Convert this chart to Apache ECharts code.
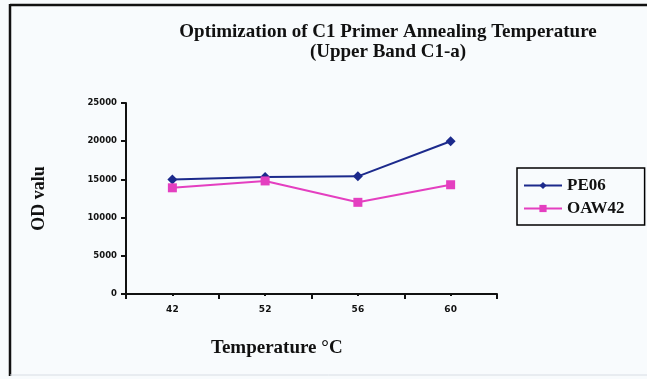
<!DOCTYPE html>
<html><head><meta charset="utf-8">
<script src="https://cdn.jsdelivr.net/npm/echarts@6/dist/echarts.min.js"></script>
<style>html,body{margin:0;padding:0;background:#f8fbfd;}#c{width:647px;height:379px;}</style>
</head><body><div id="c"></div>
<script>
var categories = ['42', '52', '56', '60'];
var pe06 = [15000, 15300, 15400, 20000];
var oaw42 = [13900, 14800, 12000, 14300];
var yTicks = [0, 5000, 10000, 15000, 20000, 25000];
var titleLines = ['Optimization of C1 Primer Annealing Temperature', '(Upper Band C1-a)'];
var seriesNames = ['PE06', 'OAW42'];
var yName = 'OD valu';
var xName = 'Temperature \u00B0C';

var serif = '"Liberation Serif","DejaVu Serif",serif';
var chart = echarts.init(document.getElementById('c'), null, {renderer: 'canvas'});
chart.setOption({
  backgroundColor: '#f8fbfd',
  animation: false,
  title: {
    text: titleLines.join('\n'),
    left: 383, top: 17, textAlign: 'center',
    textStyle: {fontFamily: serif, fontWeight: 'bold', fontSize: 19, lineHeight: 20, color: '#111'}
  },
  grid: {left: 126, top: 103, width: 371, height: 191, containLabel: false},
  legend: {
    orient: 'vertical', left: 517, top: 168,
    padding: [9, 20, 8, 6], itemGap: 6,
    borderColor: '#000', borderWidth: 1.5,
    itemWidth: 38, itemHeight: 9,
    textStyle: {fontFamily: serif, fontWeight: 'bold', fontSize: 17, color: '#111'},
    data: seriesNames
  },
  xAxis: [{
    type: 'category', data: categories, boundaryGap: true,
    axisLine: {lineStyle: {color: '#111', width: 2}},
    axisTick: {show: true, inside: false, length: 5, lineStyle: {color: '#111', width: 2}},
    axisLabel: {margin: 11, fontFamily: '"DejaVu Sans",sans-serif', fontWeight: 'bold', fontSize: 9, color: '#111'}
  }, {
    type: 'category', data: categories, boundaryGap: true, position: 'bottom',
    axisLine: {show: false},
    axisTick: {show: true, alignWithLabel: true, length: 2, lineStyle: {color: '#111', width: 2}},
    axisLabel: {show: false}
  }],
  yAxis: {
    type: 'value', min: yTicks[0], max: yTicks[yTicks.length - 1], interval: yTicks[1] - yTicks[0],
    name: yName, nameLocation: 'middle', nameGap: 78, nameRotate: 90,
    nameTextStyle: {fontFamily: serif, fontWeight: 'bold', fontSize: 18, color: '#111'},
    axisLine: {show: true, lineStyle: {color: '#111', width: 2}},
    axisTick: {show: true, length: 5, lineStyle: {color: '#111', width: 2}},
    splitLine: {show: false},
    axisLabel: {margin: 9, formatter: function (v) { return String(v); },
      fontFamily: '"DejaVu Sans",sans-serif', fontWeight: 'bold', fontSize: 8.5, color: '#111'}
  },
  graphic: [
    {type: 'line', shape: {x1: 10, y1: 4, x2: 10, y2: 376}, style: {stroke: '#111', lineWidth: 2.5}},
    {type: 'line', shape: {x1: 10, y1: 5, x2: 647, y2: 5}, style: {stroke: '#111', lineWidth: 2.5}},
    {type: 'line', shape: {x1: 10, y1: 375, x2: 647, y2: 375}, style: {stroke: '#d8dde4', lineWidth: 1}},
    {type: 'text', left: 211, top: 339, style: {text: xName, font: 'bold 19px ' + serif, fill: '#111'}}
  ],
  series: [{
    name: seriesNames[0], type: 'line', data: pe06,
    symbol: 'diamond', symbolSize: 10,
    lineStyle: {color: '#1c2a8c', width: 2}, itemStyle: {color: '#1c2a8c'}
  }, {
    name: seriesNames[1], type: 'line', data: oaw42,
    symbol: 'rect', symbolSize: 9,
    lineStyle: {color: '#e43fc0', width: 2}, itemStyle: {color: '#e43fc0'}
  }]
});
</script></body></html>
